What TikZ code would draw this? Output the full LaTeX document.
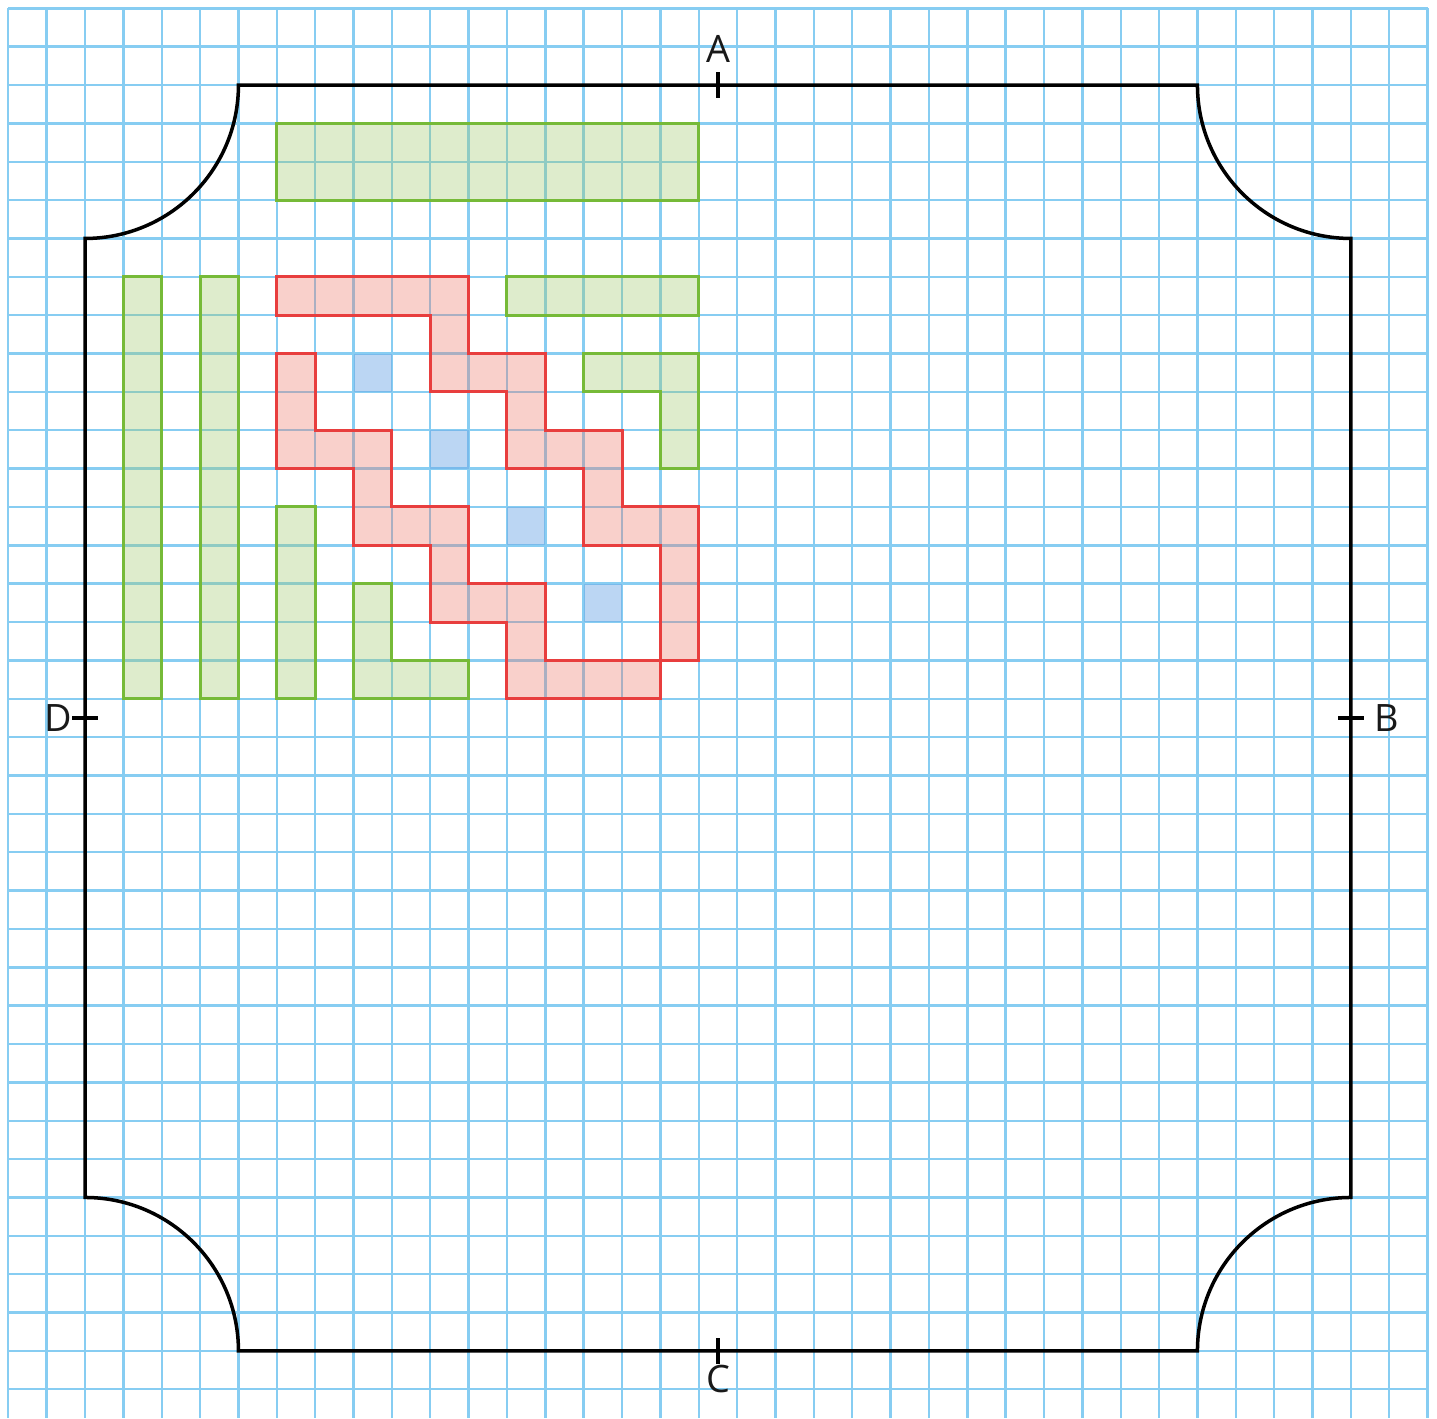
\documentclass[tikz,border=0pt]{standalone}
\usepackage{fontspec}
\setmainfont{Open Sans}
\definecolor{gridblue}{RGB}{135,205,242}
\definecolor{grstroke}{RGB}{118,186,56}
\definecolor{grfill}{RGB}{160,200,110}
\definecolor{rdstroke}{RGB}{232,62,62}
\definecolor{rdfill}{RGB}{238,120,105}
\definecolor{blfill}{RGB}{105,165,228}
\tikzset{
  gridline/.style={draw=gridblue, line width=0.9pt},
  outline/.style={draw=black, line width=1.3pt, line join=miter},
  tickmark/.style={draw=black, line width=1.3pt},
  greenpiece/.style={draw=grstroke, line width=1.1pt, fill=grfill, fill opacity=0.35},
  redpiece/.style={draw=rdstroke, line width=1.1pt, fill=rdfill, fill opacity=0.35},
  bluesq/.style={fill=blfill, fill opacity=0.45},
  lbl/.style={font=\fontsize{14}{14}\selectfont, text=black!90, inner sep=0pt}
}
\begin{document}
\begin{tikzpicture}[x=0.5cm, y=0.5cm, yscale=-1]
\useasboundingbox (-0.216,-0.216) rectangle (37.245,36.75);
% grid
\foreach \i in {0,...,37} \draw[gridline] (\i,0) -- (\i,36.75);
\foreach \j in {0,...,36} \draw[gridline] (0,\j) -- (37,\j);
% blue squares
\fill[bluesq] (9,9) rectangle (10,10);
\fill[bluesq] (11,11) rectangle (12,12);
\fill[bluesq] (13,13) rectangle (14,14);
\fill[bluesq] (15,15) rectangle (16,16);
% green pieces
\draw[greenpiece] (7,3) rectangle (18,5);
\draw[greenpiece] (3,7) rectangle (4,18);
\draw[greenpiece] (5,7) rectangle (6,18);
\draw[greenpiece] (7,13) rectangle (8,18);
\draw[greenpiece] (13,7) rectangle (18,8);
\draw[greenpiece] (15,9) -- (18,9) -- (18,12) -- (17,12) -- (17,10) -- (15,10) -- cycle;
\draw[greenpiece] (9,15) -- (10,15) -- (10,17) -- (12,17) -- (12,18) -- (9,18) -- cycle;
% red pieces
\draw[redpiece] (7,7) -- (12,7) -- (12,9) -- (14,9) -- (14,11) -- (16,11) -- (16,13) -- (18,13) -- (18,17) -- (17,17) -- (17,14) -- (15,14) -- (15,12) -- (13,12) -- (13,10) -- (11,10) -- (11,8) -- (7,8) -- cycle;
\draw[redpiece] (7,9) -- (8,9) -- (8,11) -- (10,11) -- (10,13) -- (12,13) -- (12,15) -- (14,15) -- (14,17) -- (17,17) -- (17,18) -- (13,18) -- (13,16) -- (11,16) -- (11,14) -- (9,14) -- (9,12) -- (7,12) -- cycle;
% outline
\draw[outline] (2,6) -- (2,31) arc[start angle=-90, end angle=0, radius=4]
  -- (31,35) arc[start angle=180, end angle=270, radius=4]
  -- (35,6) arc[start angle=90, end angle=180, radius=4]
  -- (6,2) arc[start angle=0, end angle=90, radius=4] -- cycle;
% ticks
\coordinate (tA1) at (18.5,1.67); \coordinate (tA2) at (18.5,2.33);
\coordinate (tC1) at (18.5,34.67); \coordinate (tC2) at (18.5,35.33);
\coordinate (tD1) at (1.67,18.5); \coordinate (tD2) at (2.33,18.5);
\coordinate (tB1) at (34.67,18.5); \coordinate (tB2) at (35.33,18.5);
\draw[tickmark] (tA1) -- (tA2);
\draw[tickmark] (tC1) -- (tC2);
\draw[tickmark] (tD1) -- (tD2);
\draw[tickmark] (tB1) -- (tB2);
% labels
\node[lbl] (A) at (18.5,1.05) {A};
\node[lbl] (C) at (18.5,35.72) {C};
\node[lbl, anchor=east] (D) at (1.68,18.5) {D};
\node[lbl, anchor=west] (B) at (35.6,18.5) {B};
\end{tikzpicture}
\end{document}
